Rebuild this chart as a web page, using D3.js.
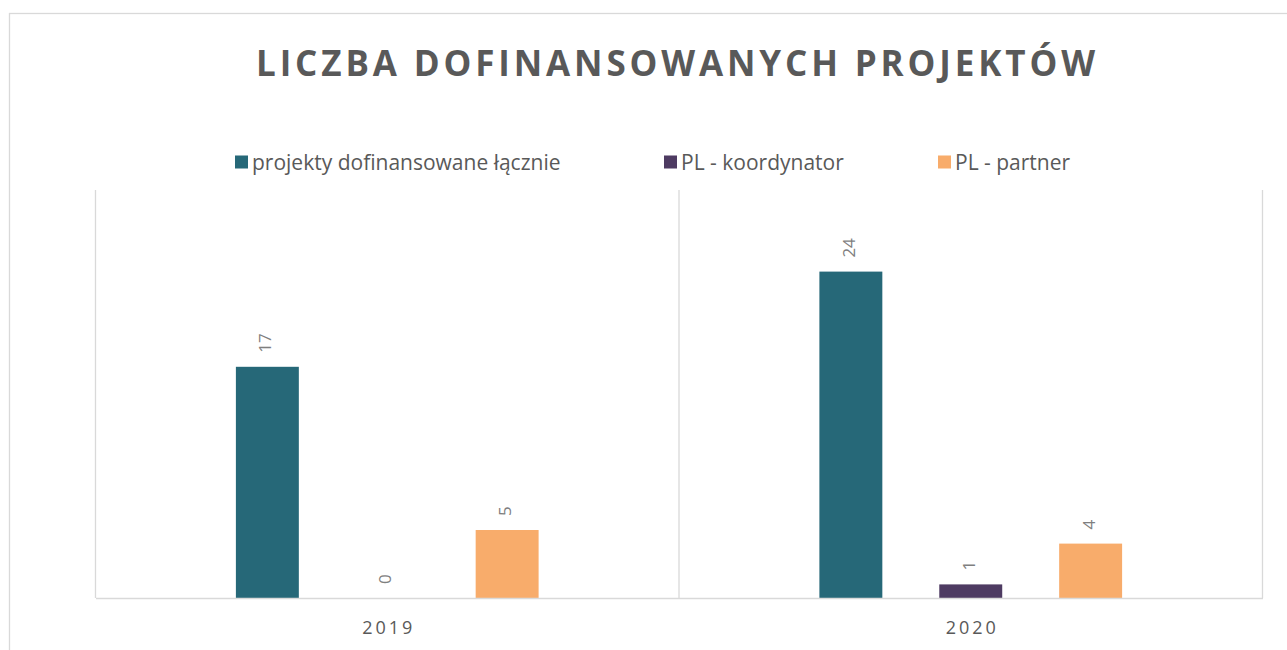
<!DOCTYPE html>
<html>
<head>
<meta charset="utf-8">
<script src="https://cdn.jsdelivr.net/npm/d3@7"></script>
<style>
  html, body { margin: 0; padding: 0; background: #fff; }
  svg { display: block; font-family: "Open Sans", "Noto Sans", sans-serif; }
</style>
</head>
<body>
<svg id="chart" width="1287" height="650"></svg>
<script>
const title = "LICZBA DOFINANSOWANYCH PROJEKTÓW";
const categories = ["2019", "2020"];
const seriesNames = ["projekty dofinansowane łącznie", "PL - koordynator", "PL - partner"];
const seriesColors = ["#266878", "#4e3b62", "#f8ac6b"];
const totalValues = [17, 24];
const coordinatorValues = [0, 1];
const partnerValues = [5, 4];
const yMax = 30;

const seriesValues = [totalValues, coordinatorValues, partnerValues];

const svg = d3.select("#chart");
const plot = { left: 95.5, right: 1262.5, top: 190, bottom: 598 };
const grey = "#d9d9d9";
const textGrey = "#595959";

// outer chart border
svg.append("rect")
  .attr("x", 9.5).attr("y", 13.5)
  .attr("width", 1320).attr("height", 700)
  .attr("fill", "#fff").attr("stroke", grey).attr("stroke-width", 1.3);

// title
const t = svg.append("text")
  .attr("x", 675.5).attr("y", 76)
  .attr("text-anchor", "middle")
  .attr("fill", textGrey)
  .attr("font-weight", 700)
  .attr("font-size", 35)
  .text(title);
const natural = t.node().getComputedTextLength();
const ls = (839 - natural) / (title.length - 1);
t.attr("letter-spacing", ls).attr("x", 675.5 + ls / 2);

// scales
const x0 = d3.scaleBand().domain(categories).range([plot.left, plot.right]).paddingInner(0).paddingOuter(0);
const x1 = d3.scaleBand().domain(seriesNames).range([0, x0.bandwidth()]).paddingInner(0.475).paddingOuter(1.171);
const y = d3.scaleLinear().domain([0, yMax]).range([plot.bottom, plot.top]);

// category separators
const seps = categories.map(c => x0(c)).concat([plot.right]);
svg.append("g").selectAll("line").data(seps).join("line")
  .attr("x1", d => d).attr("x2", d => d)
  .attr("y1", plot.top).attr("y2", plot.bottom)
  .attr("stroke", grey).attr("stroke-width", 1.3);

// bars
const flat = [];
categories.forEach((c, i) => seriesNames.forEach((s, j) => flat.push({ c, s, j, v: seriesValues[j][i] })));

svg.append("g").selectAll("rect").data(flat).join("rect")
  .attr("x", d => x0(d.c) + x1(d.s))
  .attr("y", d => y(d.v))
  .attr("width", x1.bandwidth())
  .attr("height", d => y(0) - y(d.v))
  .attr("fill", d => seriesColors[d.j]);

// data labels (rotated)
svg.append("g").selectAll("text").data(flat).join("text")
  .attr("transform", d => `translate(${x0(d.c) + x1(d.s) + x1.bandwidth() / 2 - 2},${y(d.v) - 14}) rotate(-90)`)
  .attr("dy", "0.35em")
  .attr("text-anchor", "start")
  .attr("font-size", 17)
  .attr("fill", "#7f7f7f")
  .text(d => d.v);

// x axis
const xAxis = d3.axisBottom(x0).tickSize(0).tickPadding(0);
const gx = svg.append("g").attr("transform", `translate(0,${plot.bottom})`).call(xAxis);
gx.select(".domain").attr("stroke", grey).attr("stroke-width", 1.5);
gx.selectAll(".tick text")
  .attr("font-family", "\"Open Sans\", sans-serif")
  .attr("font-size", 18)
  .attr("fill", textGrey)
  .attr("letter-spacing", 3)
  .attr("dx", 1.5)
  .attr("dy", 0)
  .attr("y", 36);

// legend
const legendX = [235, 664, 938];
const lg = svg.append("g");
seriesNames.forEach((s, j) => {
  lg.append("rect").attr("x", legendX[j]).attr("y", 155.5)
    .attr("width", 13).attr("height", 13).attr("fill", seriesColors[j]);
  lg.append("text").attr("x", legendX[j] + 17).attr("y", 170)
    .attr("font-size", 21).attr("fill", textGrey).text(s);
});
</script>
</body>
</html>
